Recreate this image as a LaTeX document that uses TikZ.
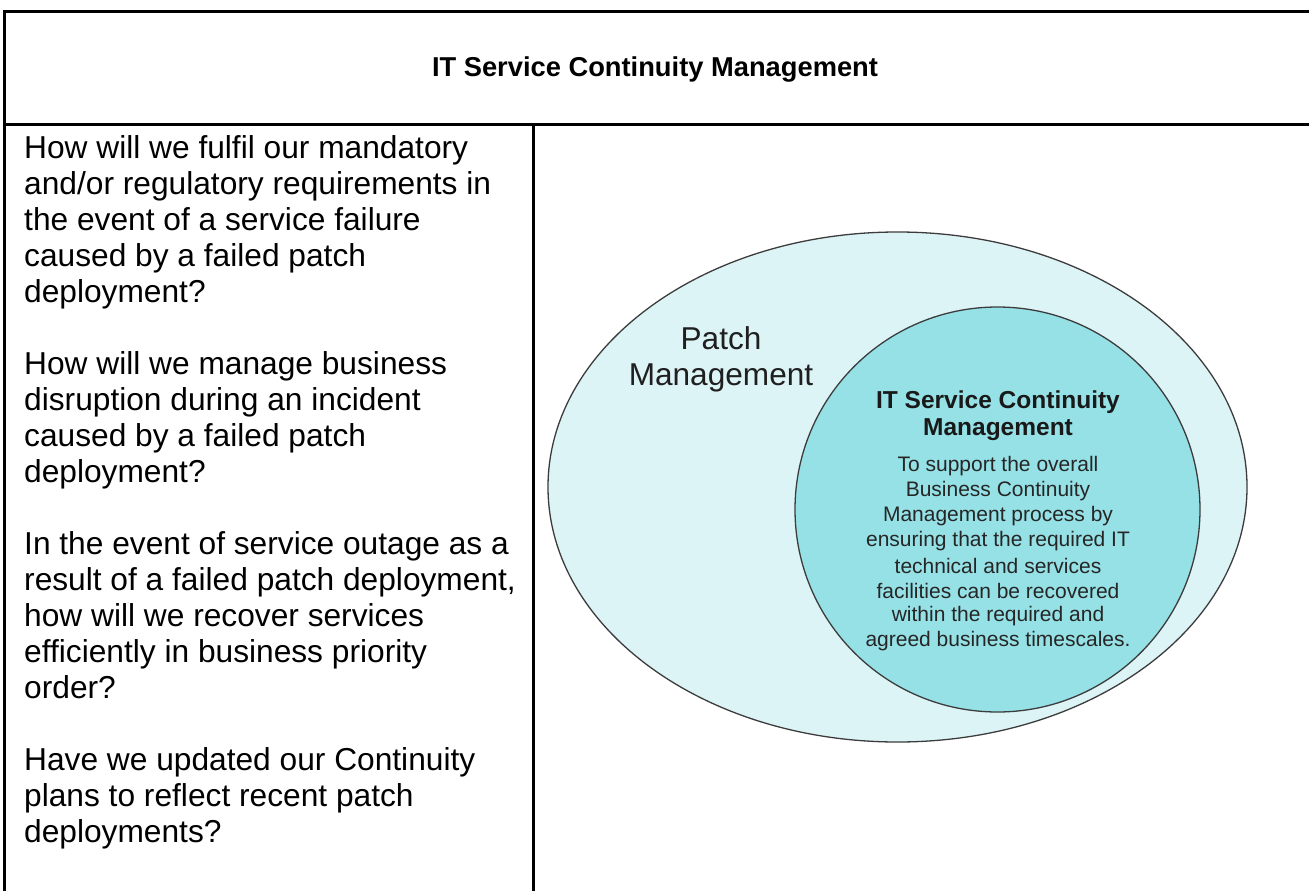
\documentclass[tikz,border=0pt]{standalone}
\usepackage{fontspec}
\setmainfont{Liberation Sans}
\begin{document}
\begin{tikzpicture}[x=1pt,y=-1pt,
  frame/.style={line width=3pt,black},
  lefttext/.style={anchor=base west,inner sep=0pt,font=\fontsize{31.7}{36}\selectfont},
  pmtext/.style={anchor=center,inner sep=0pt,text=black!88,font=\fontsize{31.6}{36}\selectfont},
  ittitle/.style={anchor=center,inner sep=0pt,text=black!90,font=\bfseries\fontsize{24.5}{28}\selectfont},
  itbody/.style={anchor=center,inner sep=0pt,text=black!85,font=\fontsize{21}{25}\selectfont}]
\definecolor{outerfill}{RGB}{221,244,247}
\definecolor{innerfill}{RGB}{149,225,230}
\definecolor{edgecol}{RGB}{60,60,60}
\useasboundingbox (0,0) rectangle (1309,891);
\fill[white] (0,0) rectangle (1309,891);
% table frame
\coordinate (tl) at (4,12);
\coordinate (tr) at (1312,12);
\coordinate (bl) at (4,894);
\coordinate (hl) at (4,124);
\coordinate (hr) at (1312,124);
\coordinate (dt) at (533,124);
\coordinate (db) at (533,894);
\draw[frame] (tr) -- (tl) -- (bl);
\draw[frame] (hl) -- (hr);
\draw[frame] (dt) -- (db);
% header
\node[inner sep=0pt,anchor=base,font=\bfseries\fontsize{27.3}{32}\selectfont] (title) at (655,77) {IT Service Continuity Management};
% left column
\node[lefttext] (l1) at (24,158) {How will we fulfil our mandatory};
\node[lefttext] (l2) at (24,194) {and/or regulatory requirements in};
\node[lefttext] (l3) at (24,230) {the event of a service failure};
\node[lefttext] (l4) at (24,266) {caused by a failed patch};
\node[lefttext] (l5) at (24,302) {deployment?};
\node[lefttext] (l6) at (24,374) {How will we manage business};
\node[lefttext] (l7) at (24,410) {disruption during an incident};
\node[lefttext] (l8) at (24,446) {caused by a failed patch};
\node[lefttext] (l9) at (24,482) {deployment?};
\node[lefttext] (l10) at (24,554) {In the event of service outage as a};
\node[lefttext] (l11) at (24,590) {result of a failed patch deployment,};
\node[lefttext] (l12) at (24,626) {how will we recover services};
\node[lefttext] (l13) at (24,662) {efficiently in business priority};
\node[lefttext] (l14) at (24,698) {order?};
\node[lefttext] (l15) at (24,770) {Have we updated our Continuity};
\node[lefttext] (l16) at (24,806) {plans to reflect recent patch};
\node[lefttext] (l17) at (24,842) {deployments?};
% diagram
\draw[fill=outerfill,draw=edgecol,line width=1.3pt] (897.5,487) ellipse [x radius=349.5,y radius=255];
\draw[fill=innerfill,draw=edgecol,line width=1.3pt] (997.5,509.5) circle [radius=202.5];
\node[pmtext] (p1) at (721,338) {Patch};
\node[pmtext] (p2) at (721,378) {Management};
\node[ittitle] (t1) at (998,402) {IT Service Continuity};
\node[ittitle] (t2) at (998,430) {Management};
\node[itbody] (b1) at (998,466) {To support the overall};
\node[itbody] (b2) at (998,491) {Business Continuity};
\node[itbody] (b3) at (998,516) {Management process by};
\node[itbody] (b4) at (998,541) {ensuring that the required IT};
\node[itbody] (b5) at (998,566) {technical and services};
\node[itbody] (b6) at (998,591) {facilities can be recovered};
\node[itbody] (b7) at (998,616) {within the required and};
\node[itbody] (b8) at (998,641) {agreed business timescales.};
\end{tikzpicture}
\end{document}
